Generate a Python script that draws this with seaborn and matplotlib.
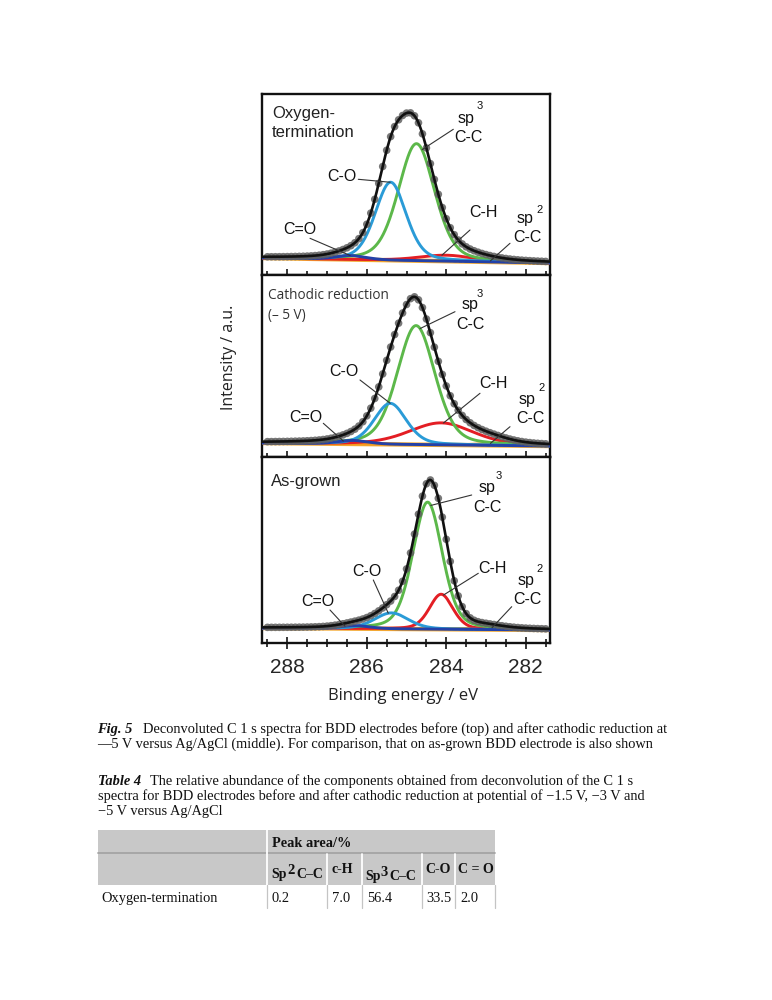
# XPS C 1s deconvolution figure (Fig. 5) with caption and start of Table 4

import numpy as np
import pandas as pd
import matplotlib
matplotlib.use("Agg")
import matplotlib.pyplot as plt
import seaborn as sns
from matplotlib.ticker import MultipleLocator

sns.set_style("ticks")
plt.rcParams['font.family'] = ['Liberation Sans', 'DejaVu Sans']

# ---------------- data ----------------
e_left, e_right = 288.63, 281.39          # binding energy window / eV
x_ticks = [288, 286, 284, 282]

components = ["sp2 C-C", "C-H", "sp3 C-C", "C-O", "C=O"]
comp_colors = ["#f39a1e", "#e31e24", "#5cb84a", "#2a9bd7", "#2341a8"]

# peak centre / eV, height / a.u., FWHM / eV  (order as in components)
ox_center = [283.3, 284.0, 284.75, 285.4, 286.4]
ox_height = [1.5, 6.0, 117.0, 78.0, 4.0]
ox_fwhm = [1.2, 1.6, 1.08, 0.92, 0.9]
ox_bg = [17.0, 12.0]        # background at left / right edge

cr_center = [282.8, 284.13, 284.76, 285.41, 286.35]
cr_height = [2.0, 22.0, 119.0, 41.0, 3.5]
cr_fwhm = [1.0, 1.9, 1.12, 0.95, 0.9]
cr_bg = [14.0, 11.0]

ag_center = [283.0, 284.13, 284.47, 285.38, 286.3]
ag_height = [2.0, 35.0, 127.0, 16.0, 3.0]
ag_fwhm = [1.0, 0.7, 0.875, 1.0, 0.9]
ag_bg = [15.0, 13.0]

# measured points every 0.1 eV
e_points = np.round(np.arange(288.5, 281.45, -0.1), 2)

# table 4
table_cols = ["Sp", "c-H", "Sp", "C-O", "C = O"]
table_rows = ["Oxygen-termination"]
table_values = [[0.2, 7.0, 56.4, 33.5, 2.0]]


def pseudo_voigt(e, c, h, w, eta=0.3):
    x = (e - c) / w
    return h * (eta / (1 + 4 * x ** 2) + (1 - eta) * np.exp(-4 * np.log(2) * x ** 2))


def background(e, bg):
    return bg[0] + (bg[1] - bg[0]) * (e - e_left) / (e_right - e_left)


def model(e, centers, heights, fwhms, bg):
    comps = [background(e, bg) + pseudo_voigt(e, c, h, w)
             for c, h, w in zip(centers, heights, fwhms)]
    env = background(e, bg) + sum(pseudo_voigt(e, c, h, w)
                                  for c, h, w in zip(centers, heights, fwhms))
    return comps, env


# ---------------- figure ----------------
W, H = 772, 1000
fig = plt.figure(figsize=(W / 100, H / 100), dpi=100)

# panel boxes in page pixels: top, bottom
ax_left, ax_right = 262.3, 550
panel_boxes = [(94, 275), (275, 457), (457, 643)]
panel_params = [(ox_center, ox_height, ox_fwhm, ox_bg),
                (cr_center, cr_height, cr_fwhm, cr_bg),
                (ag_center, ag_height, ag_fwhm, ag_bg)]

e_grid = np.linspace(e_left, e_right, 900)
axes = []
for i, ((top, bot), (cen, hei, fw, bg)) in enumerate(zip(panel_boxes, panel_params)):
    ax = fig.add_axes([ax_left / W, 1 - bot / H, (ax_right - ax_left) / W, (bot - top) / H])
    axes.append(ax)
    comps, env = model(e_grid, cen, hei, fw, bg)

    sns.lineplot(x=e_grid, y=background(e_grid, bg), color="#f4ad3a", lw=3.2,
                 estimator=None, ax=ax, zorder=2)
    sns.lineplot(x=e_grid, y=background(e_grid, bg), color="#111111", lw=1.1,
                 linestyle=(0, (2, 1.6)), estimator=None, ax=ax, zorder=2.1)
    for k in [0, 1, 2, 3, 4]:
        sns.lineplot(x=e_grid, y=comps[k], color=comp_colors[k], lw=2.1,
                     estimator=None, ax=ax, zorder=3)
    _, env_pts = model(e_points, cen, hei, fw, bg)
    sns.scatterplot(x=e_points, y=env_pts, s=30, color="#606060", edgecolor="none",
                    alpha=0.85, ax=ax, zorder=4)
    sns.lineplot(x=e_grid, y=env, color="#111111", lw=1.9, estimator=None, ax=ax, zorder=5)

    ax.set_xlim(e_left, e_right)
    ax.set_ylim(0, bot - top)
    ax.set_yticks([])
    ax.set_xlabel("")
    ax.set_ylabel("")
    ax.xaxis.set_major_locator(MultipleLocator(2))
    ax.xaxis.set_minor_locator(MultipleLocator(0.5))
    ax.tick_params(axis="x", which="both", direction="inout", bottom=True, top=False,
                   width=1.3, labelsize=15, pad=6.5, labelbottom=(i == 2))
    ax.tick_params(axis="x", which="major", length=8)
    ax.tick_params(axis="x", which="minor", length=5.5)
    for s in ax.spines.values():
        s.set_linewidth(1.7)
        s.set_color("#111111")
axes[2].set_xticks(x_ticks)
axes[2].set_xticklabels([str(t) for t in x_ticks])

# page overlay in pixel coordinates
page = fig.add_axes([0, 0, 1, 1], zorder=10)
page.set_xlim(0, W)
page.set_ylim(H, 0)
page.axis("off")
page.patch.set_visible(False)

# panel titles
page.text(272, 118.3, "Oxygen-", fontsize=12, va="baseline", color="#222222")
page.text(272, 136.7, "termination", fontsize=12, va="baseline", color="#222222")
page.text(268.3, 299.3, "Cathodic reduction", fontsize=9.8, family="Open Sans",
          va="baseline", color="#333333")
page.text(268.3, 319.3, "(\u2013 5 V)", fontsize=9.8, family="Open Sans",
          va="baseline", color="#333333")
page.text(270.7, 486, "As-grown", fontsize=12, va="baseline", color="#222222")

# component labels: text, x, baseline y (page pixels)
label_text = ["sp", "3", "C-C", "C-O", "C-H", "sp", "2", "C-C", "C=O"]
label_pos = [
    [(466, 123.3), (480, 109), (468.3, 141.7), (341.7, 180.7), (483.3, 217.3),
     (525, 223.3), (540, 212.7), (527.3, 242.3), (300, 234)],
    [(470, 309.3), (479.3, 296.7), (470.7, 329.3), (344, 376), (493.3, 387.7),
     (526.7, 404.3), (541.7, 390.7), (530, 422.7), (305.7, 421.7)],
    [(486.7, 491.7), (498.3, 479.3), (487.3, 511.7), (366.7, 576), (492.7, 572.7),
     (526, 585), (540, 571.7), (527.3, 604.3), (318.3, 606)],
]
for pos in label_pos:
    for txt, (x, y) in zip(label_text, pos):
        size = 8 if txt in ("2", "3") else 11.5
        page.text(x, y, txt, fontsize=size, ha="center", va="baseline", color="#111111")

# leader lines: component index, energy of the tip, line start (page pixels)
leaders = [
    [(2, 284.61, (453.3, 129.3)), (3, 285.41, (358.3, 179.3)), (1, 284.11, (470, 230)),
     (0, 282.89, (510, 243.3)), (4, 286.42, (310, 238.3))],
    [(2, 284.66, (455, 311.7)), (3, 285.41, (360, 380)), (1, 284.07, (480, 393.3)),
     (0, 282.89, (510, 426.7)), (4, 286.59, (323.3, 423.3))],
    [(2, 284.39, (471.7, 495)), (3, 285.46, (373.3, 580)), (1, 284.07, (478.3, 573.3)),
     (0, 282.85, (511.7, 606.7)), (4, 286.55, (330, 610))],
]
for ax, (cen, hei, fw, bg), lead in zip(axes, panel_params, leaders):
    for k, e_tip, start in lead:
        y_tip = background(e_tip, bg) + pseudo_voigt(e_tip, cen[k], hei[k], fw[k])
        page.annotate("", xy=(e_tip, y_tip), xycoords=ax.transData,
                      xytext=start, textcoords="data",
                      arrowprops=dict(arrowstyle="-", color="#333333", lw=0.8,
                                      shrinkA=0, shrinkB=0))

# axis titles
page.text(229, 357, "Intensity / a.u.", rotation=90, fontsize=11.5, family="Open Sans",
          ha="center", va="center", color="#222222")
page.text(403.3, 696, "Binding energy / eV", fontsize=12, family="Open Sans",
          ha="center", va="center", color="#222222")

# ---------------- caption ----------------
serif = ["Liberation Serif", "DejaVu Serif"]
cap_size = 10.4
head_size = 10


def chain(x, y, pieces):
    """pieces: (text, weight, style, gap_px, rise_px, size)"""
    prev = None
    for txt, weight, style, gap, rise, size in pieces:
        if prev is None:
            prev = page.text(x, y, txt, fontsize=size, family=serif, weight=weight,
                             style=style, va="baseline", color="#111111")
        else:
            prev = page.annotate(txt, xy=(1, 0), xycoords=prev,
                                 xytext=(gap * 0.72, rise * 0.72), textcoords="offset points",
                                 fontsize=size, family=serif, weight=weight, style=style,
                                 va="bottom", ha="left", color="#111111")
    return prev


chain(96.7, 733.3, [("Fig. 5", "bold", "italic", 0, 0, cap_size),
                    ("Deconvoluted C 1 s spectra for BDD electrodes before (top) and after "
                     "cathodic reduction at", "normal", "normal", 11, 0, cap_size)])
chain(96.7, 748.3, [("\u20145 V versus Ag/AgCl (middle). For comparison, that on as-grown "
                     "BDD electrode is also shown", "normal", "normal", 0, 0, cap_size)])
chain(98.3, 785, [("Table 4", "bold", "italic", 0, 0, cap_size),
                  ("The relative abundance of the components obtained from deconvolution "
                   "of the C 1 s", "normal", "normal", 9, 0, cap_size)])
chain(98.3, 800, [("spectra for BDD electrodes before and after cathodic reduction at "
                   "potential of \u22121.5 V, \u22123 V and", "normal", "normal", 0, 0, cap_size)])
chain(98.3, 815, [("\u22125 V versus Ag/AgCl", "normal", "normal", 0, 0, cap_size)])

# ---------------- table ----------------
col_x = [98.3, 266.7, 326.7, 361.7, 421.7, 455, 495]
row_y = [830, 853, 885, 908]
gray = "#c8c8c8"
page.add_patch(plt.Rectangle((col_x[0], row_y[0]), col_x[-1] - col_x[0], row_y[2] - row_y[0],
                             facecolor=gray, edgecolor="none"))
page.plot([col_x[0], col_x[-1]], [row_y[1], row_y[1]], color="#a4a4a4", lw=1.3)
page.plot([col_x[1], col_x[1]], [row_y[0], row_y[2]], color="white", lw=1.3)
for x in col_x[2:-1]:
    page.plot([x, x], [row_y[1] + 1, row_y[2]], color="white", lw=1.3)
for x in col_x[1:]:
    page.plot([x, x], [row_y[2], row_y[3]], color="#c4c4c4", lw=0.9)

page.text(271.7, 846.7, "Peak area/%", fontsize=cap_size, family=serif, weight="bold",
          va="baseline", color="#111111")
chain(271.7, 878.3, [(table_cols[0], "bold", "normal", 0, 0, head_size),
                     ("2", "bold", "normal", 0, 4.5, 10.5),
                     ("C\u2013C", "bold", "normal", 2, -4.5, head_size)])
page.text(331.7, 873.3, table_cols[1], fontsize=head_size, family=serif, weight="bold",
          va="baseline", color="#111111")
chain(365, 880, [(table_cols[2], "bold", "normal", 0, 0, head_size),
                 ("3", "bold", "normal", 0, 4.5, 10.5),
                 ("C\u2013C", "bold", "normal", 2, -4.5, head_size)])
page.text(425.5, 873.3, table_cols[3], fontsize=head_size, family=serif, weight="bold",
          va="baseline", color="#111111")
page.text(457.5, 873.3, table_cols[4], fontsize=head_size, family=serif, weight="bold",
          va="baseline", color="#111111")

value_x = [271.7, 331.7, 366.7, 426.7, 460]
for name, vals in zip(table_rows, table_values):
    page.text(101.7, 901.7, name, fontsize=cap_size, family=serif, va="baseline",
              color="#111111")
    for x, v in zip(value_x, vals):
        page.text(x, 901.7, f"{v:.1f}", fontsize=cap_size, family=serif, va="baseline",
                  color="#111111")

fig.savefig("out.png", dpi=100, facecolor="white")
